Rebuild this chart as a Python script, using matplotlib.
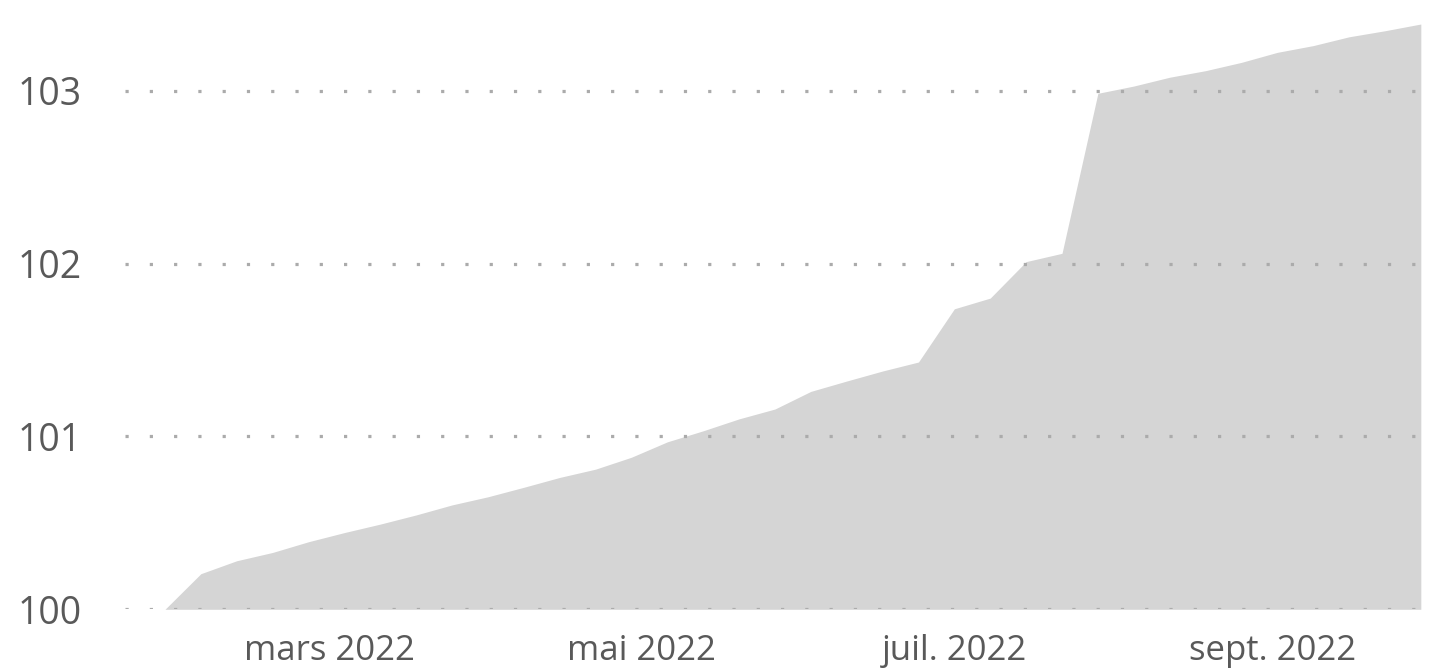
import matplotlib
matplotlib.use("Agg")
import matplotlib.pyplot as plt
import pandas as pd

# ---- data (weekly index, base 100) ----
start_date = "2022-01-28"
index_values = [
    100.000, 100.206, 100.281, 100.329, 100.391, 100.444, 100.493, 100.546,
    100.604, 100.651, 100.706, 100.763, 100.811, 100.880, 100.969, 101.033,
    101.102, 101.159, 101.261, 101.321, 101.379, 101.431, 101.739, 101.801,
    102.012, 102.060, 102.986, 103.028, 103.079, 103.117, 103.165, 103.223,
    103.262, 103.313, 103.348, 103.387,
]
tick_dates = ["2022-03-01", "2022-05-01", "2022-07-01", "2022-09-01"]
tick_labels = ["mars 2022", "mai 2022", "juil. 2022", "sept. 2022"]
y_ticks = [100, 101, 102, 103]

dates = pd.date_range(start_date, periods=len(index_values), freq="7D")

plt.rcParams["font.family"] = ["Open Sans", "DejaVu Sans"]

fig = plt.figure(figsize=(14.35, 6.70), dpi=100)
ax = fig.add_axes([0.0871, 0.0906, 0.9073, 0.8898])

ax.fill_between(dates, 100, index_values, color="#d5d5d5", linewidth=0, zorder=1)

ax.set_ylim(100, 103.45)
ax.set_xlim(dates[0] - pd.Timedelta(days=7.8), dates[-1] + pd.Timedelta(days=1.2))

ax.set_yticks(y_ticks)
ax.set_yticklabels([str(v) for v in y_ticks])
ax.set_xticks(pd.to_datetime(tick_dates))
ax.set_xticklabels(tick_labels)

ax.set_axisbelow(False)
ax.yaxis.grid(True, color="#ababab", linewidth=2.3, linestyle=(0, (1, 6.6)),
              dash_capstyle="butt")
ax.xaxis.grid(False)

for s in ax.spines.values():
    s.set_visible(False)

ax.tick_params(axis="both", length=0)
ax.tick_params(axis="y", labelsize=27, labelcolor="#595959", pad=31)
ax.tick_params(axis="x", labelsize=25, labelcolor="#595959", pad=18)

fig.savefig("out.png", dpi=100, facecolor="white")
